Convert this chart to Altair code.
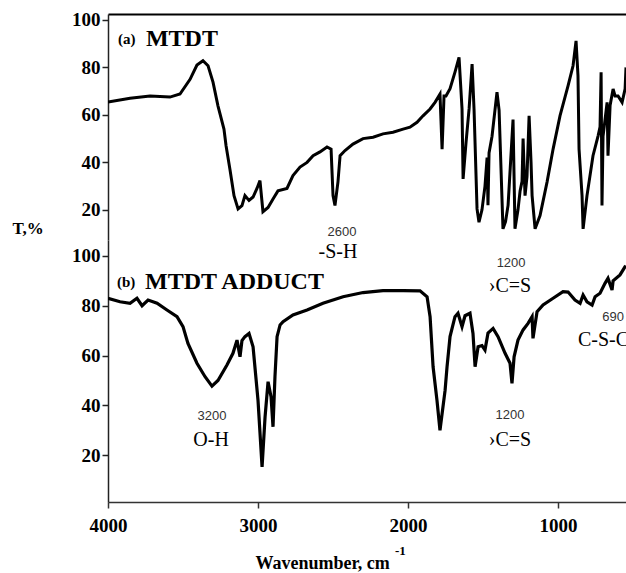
import altair as alt
import pandas as pd

SERIF = "Liberation Serif"
SANS = "Liberation Sans"

# ---- (a) MTDT spectrum: wavenumber (cm-1) and transmittance (%) ----
wn_a = [4000, 3853, 3720, 3587, 3520, 3453, 3407, 3367, 3333, 3300,
        3267, 3227, 3213, 3187, 3160, 3133, 3107, 3087, 3060, 3033,
        3007, 2987, 2967, 2933, 2900, 2867, 2807, 2767, 2720, 2673,
        2633, 2587, 2540, 2513, 2500, 2487, 2467, 2453, 2420, 2367,
        2300, 2233, 2167, 2100, 2033, 1987, 1940, 1900, 1853, 1820,
        1787, 1773, 1760, 1747, 1720, 1687, 1660, 1640, 1633, 1613,
        1593, 1573, 1560, 1540, 1527, 1507, 1487, 1473, 1467, 1460,
        1440, 1407, 1393, 1367, 1350, 1333, 1300, 1287, 1267, 1253,
        1240, 1233, 1220, 1207, 1193, 1180, 1173, 1153, 1120, 1073,
        1033, 987, 933, 900, 880, 867, 860, 840, 833, 807,
        767, 733, 720, 713, 707, 700, 673, 667, 653, 633,
        620, 600, 573, 553, 547]
t_a = [65.4, 67, 68, 67.5, 68.8, 75, 81, 82.8, 80.7, 73.8,
       63.8, 54, 47, 37, 26, 20.4, 21.8, 26, 24, 25.4,
       29, 32.3, 19.2, 21, 24.6, 28, 29, 34.4, 38, 40,
       42.8, 44.4, 46.5, 45.6, 26, 21.8, 31.8, 42.8, 45, 47.7,
       50, 50.6, 52, 52.7, 54, 54.8, 56.9, 59.6, 62.5, 65.3,
       68.8, 45.6, 68, 68, 71, 78, 84.2, 62.5, 33, 48.6,
       62.5, 81.4, 62.5, 20.4, 14.8, 20, 30, 42, 22, 44,
       51, 69.6, 62, 12, 15, 22, 58, 12, 20, 28,
       32, 50, 26, 34, 59.6, 40, 26, 12, 17.6, 31.8,
       45.6, 59.6, 72.3, 80.7, 91.2, 76.5, 45.6, 26, 12, 26,
       42.8, 51.2, 55, 78, 21.8, 51, 65.3, 42.8, 64, 70.9,
       68, 68, 65.3, 71, 80]

# ---- (b) MTDT ADDUCT spectrum ----
wn_b = [4000, 3920, 3853, 3807, 3773, 3733, 3673, 3607, 3540, 3500,
        3467, 3407, 3353, 3307, 3267, 3207, 3167, 3140, 3120, 3107,
        3087, 3060, 3033, 3000, 2973, 2953, 2933, 2913, 2900, 2887,
        2873, 2853, 2833, 2767, 2673, 2567, 2433, 2300, 2167, 2033,
        1920, 1873, 1853, 1833, 1807, 1787, 1753, 1740, 1720, 1687,
        1667, 1640, 1620, 1587, 1567, 1553, 1533, 1507, 1487, 1467,
        1433, 1400, 1353, 1320, 1307, 1293, 1267, 1233, 1200, 1173,
        1167, 1140, 1100, 1033, 967, 933, 887, 853, 833, 807,
        773, 753, 720, 687, 667, 640, 633, 587, 553, 547]
t_b = [83, 81.6, 81, 83, 80, 82.3, 81, 78.3, 75.6, 71.6,
       64.9, 56.9, 51.5, 47.7, 50, 56.2, 60.9, 66.2, 59.5, 66,
       67.6, 68.9, 63.5, 42, 15.3, 35.4, 49.5, 43.4, 31.4, 51.5,
       67.6, 72.3, 73.6, 76.3, 78.3, 81, 83.6, 85.3, 86.1, 86.1,
       86, 83.6, 75.6, 55.5, 42, 30, 46, 55.5, 67.6, 75.6,
       77, 71.6, 76, 77, 68.9, 55.5, 63.5, 64, 62.2, 69,
       70.9, 67.6, 60.9, 56.9, 48.8, 59.5, 66.2, 70.3, 72.9, 75.6,
       66.9, 77.6, 80.3, 83, 85.7, 85.5, 82.3, 81, 84.3, 81.6,
       80.3, 83.6, 85, 89, 91, 86.3, 90, 92.4, 95.7, 96]

x_ticks = [4000, 3000, 2000, 1000]
y_ticks = [20, 40, 60, 80, 100]

# ---- annotations (text, wavenumber, T in that panel's units) ----
a_tag = ["(a)"];          a_tag_wn = [3933];  a_tag_t = [91.9]
a_name = ["MTDT"];        a_name_wn = [3747]; a_name_t = [91.9]
a_num = ["2600"];         a_num_wn = [2440];  a_num_t = [10.5]
a_lab = ["-S-H"];         a_lab_wn = [2467];  a_lab_t = [2.2]

b_tag = ["(b)"];          b_tag_wn = [3940];  b_tag_t = [89.5]
b_name = ["MTDT ADDUCT"]; b_name_wn = [3753]; b_name_t = [89.5]
b_num = ["3200", "1200", "1200"]
b_num_wn = [3307, 1313, 1320]
b_num_t = [35.7, 97.2, 36.1]
b_lab = ["O-H", "\u203aC=S", "\u203aC=S"]
b_lab_wn = [3313, 1320, 1320]
b_lab_t = [26, 87.9, 26]
b_edge_num = ["690"];     b_edge_num_wn = [633]; b_edge_num_t = [75.5]
b_edge_lab = ["C-S-C"];   b_edge_lab_wn = [867]; b_edge_lab_t = [66.2]
sup_text = ["-1"];        sup_wn = [2087];     sup_t = [-18.6]

X_DOMAIN = [4000, 547]
Y_DOMAIN_A = [7.3, 102.5]
Y_DOMAIN_B = [1.2, 106.4]
W = 518
H_A = 226
H_B = 262

xs = alt.Scale(domain=X_DOMAIN, nice=False, zero=False)
ys_a = alt.Scale(domain=Y_DOMAIN_A, nice=False, zero=False)
ys_b = alt.Scale(domain=Y_DOMAIN_B, nice=False, zero=False)

y_axis_common = dict(values=y_ticks, labelFont=SERIF, labelFontSize=19,
                     labelFontWeight="bold", labelColor="black", tickSize=6,
                     labelPadding=2, domainColor="#222", tickColor="#222",
                     domainWidth=1.5, tickWidth=1.5, grid=False,
                     labelFlush=False)

xa_axis = alt.Axis(orient="top", labels=False, ticks=False, title=None,
                   grid=False, domainColor="black", domainWidth=2)
ya_axis = alt.Axis(title="T,%", titleAngle=0, titleX=-96, titleY=214,
                   titleAlign="left", titleBaseline="middle",
                   titleFont=SERIF, titleFontSize=17,
                   titleFontWeight="bold", titleColor="black",
                   **y_axis_common)
xb_axis = alt.Axis(values=x_ticks, format="d", labelFont=SERIF,
                   labelFontSize=19, labelFontWeight="bold",
                   labelColor="black", tickSize=6, labelPadding=8,
                   labelFlush=False,
                   domainColor="#333", tickColor="#333",
                   domainWidth=1.5, tickWidth=1.5, grid=False,
                   title="Wavenumber, cm", titleX=147, titleY=61,
                   titleAlign="left", titleBaseline="middle",
                   titleFont=SERIF, titleFontSize=18,
                   titleFontWeight="bold", titleColor="black")
yb_axis = alt.Axis(title=None, **y_axis_common)


def texts(labels, wns, ts, ys, xax, yax, size, font, weight="normal",
          align="center", color="black", clip=False):
    df = pd.DataFrame({"label": labels, "wn": wns, "t": ts})
    return alt.Chart(df).mark_text(
        font=font, fontSize=size, fontWeight=weight, align=align,
        baseline="middle", color=color, clip=clip
    ).encode(
        x=alt.X("wn:Q", scale=xs, axis=xax),
        y=alt.Y("t:Q", scale=ys, axis=yax),
        text="label:N",
    )


line_a = alt.Chart(pd.DataFrame({"wn": wn_a, "t": t_a})).mark_line(
    color="black", strokeWidth=3, clip=True
).encode(
    x=alt.X("wn:Q", scale=xs, axis=xa_axis),
    y=alt.Y("t:Q", scale=ys_a, axis=ya_axis),
)

A = dict(ys=ys_a, xax=xa_axis, yax=ya_axis)
upper = alt.layer(
    line_a,
    texts(a_tag, a_tag_wn, a_tag_t, size=15, font=SERIF, weight="bold", align="left", **A),
    texts(a_name, a_name_wn, a_name_t, size=24, font=SERIF, weight="bold", align="left", **A),
    texts(a_num, a_num_wn, a_num_t, size=13, font=SANS, color="#333", **A),
    texts(a_lab, a_lab_wn, a_lab_t, size=20, font=SERIF, **A),
).properties(width=W, height=H_A)

line_b = alt.Chart(pd.DataFrame({"wn": wn_b, "t": t_b})).mark_line(
    color="black", strokeWidth=3.2, clip=True
).encode(
    x=alt.X("wn:Q", scale=xs, axis=xb_axis),
    y=alt.Y("t:Q", scale=ys_b, axis=yb_axis),
)

B = dict(ys=ys_b, xax=xb_axis, yax=yb_axis)
lower = alt.layer(
    line_b,
    texts(b_tag, b_tag_wn, b_tag_t, size=15, font=SERIF, weight="bold", align="left", **B),
    texts(b_name, b_name_wn, b_name_t, size=24, font=SERIF, weight="bold", align="left", **B),
    texts(b_num, b_num_wn, b_num_t, size=13, font=SANS, color="#333", **B),
    texts(b_lab, b_lab_wn, b_lab_t, size=20, font=SERIF, **B),
    texts(b_edge_num, b_edge_num_wn, b_edge_num_t, size=13, font=SANS,
          color="#333", clip=True, **B),
    texts(b_edge_lab, b_edge_lab_wn, b_edge_lab_t, size=20, font=SERIF,
          align="left", clip=True, **B),
    texts(sup_text, sup_wn, sup_t, size=13, font=SERIF, weight="bold", align="left", **B),
).properties(width=W, height=H_B)

chart = alt.vconcat(upper, lower, spacing=0, bounds="flush").properties(
    padding={"left": 12, "top": 10, "right": 0, "bottom": 1}
).configure_view(stroke=None).configure_axis(grid=False)

chart.save("out.html", embed_options={"renderer": "svg", "actions": False})
